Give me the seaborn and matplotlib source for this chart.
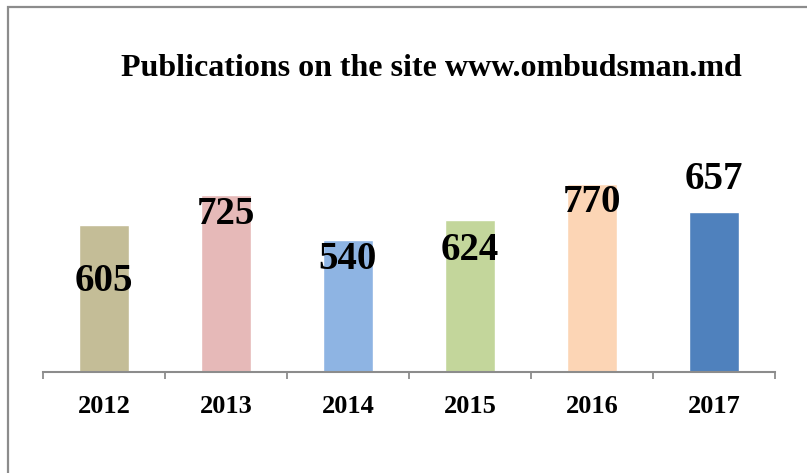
import matplotlib
matplotlib.use('Agg')
import matplotlib.pyplot as plt
import seaborn as sns
import pandas as pd
from matplotlib.patches import Rectangle

# Datos del gráfico
years = ['2012', '2013', '2014', '2015', '2016', '2017']
publications = [605, 725, 540, 624, 770, 657]
bar_colors = ['#C4BD97', '#E6B9B8', '#8EB4E3', '#C3D69B', '#FCD5B5', '#4F81BD']
# desplazamiento vertical de cada etiqueta (puntos) respecto al tope de la barra
label_offsets = [-41, -14, -14, -22, -13, 23]

df = pd.DataFrame({'year': years, 'count': publications})

sns.set_style('white')
plt.rcParams['font.family'] = ['Liberation Serif', 'DejaVu Serif']
plt.rcParams['text.color'] = 'black'
plt.rcParams['xtick.labelcolor'] = 'black'

fig = plt.figure(figsize=(8.07, 4.73), dpi=100)
ax = fig.add_axes([43 / 807, (473 - 372) / 473, 732 / 807, 272 / 473])

sns.barplot(data=df, x='year', y='count', hue='year', palette=bar_colors,
            width=0.41, legend=False, ax=ax, saturation=1)

ax.set_xlim(-0.5, 5.5)
ax.set_ylim(0, 1116)
ax.set_xlabel('')
ax.set_ylabel('')
ax.set_yticks([])
for s in ['top', 'right', 'left']:
    ax.spines[s].set_visible(False)
ax.spines['bottom'].set_color('#8C8C8C')
ax.spines['bottom'].set_linewidth(1.5)

# marcas entre categorías
ax.set_xticks([i - 0.5 for i in range(len(years) + 1)], minor=True)
ax.tick_params(axis='x', which='minor', length=5, width=1.3, color='#8C8C8C', bottom=True)
ax.tick_params(axis='x', which='major', length=0, pad=16.5, labelsize=19, labelcolor='black')
for lbl in ax.get_xticklabels():
    lbl.set_fontweight('bold')

# etiquetas de valor
for i, (v, off) in enumerate(zip(publications, label_offsets)):
    ax.annotate(str(v), xy=(i, v), xytext=(0, off), textcoords='offset points',
                ha='center', va='center', fontsize=28, fontweight='bold', color='black')

fig.text(431 / 807, 1 - 69 / 473, 'Publications on the site www.ombudsman.md',
         ha='center', va='center', fontsize=23, fontweight='bold', color='black')

# borde del gráfico
fig.patches.append(Rectangle((8 / 807, -0.1), 1.2, 1 - 7 / 473 + 0.1,
                             transform=fig.transFigure, fill=False,
                             edgecolor='#8C8C8C', linewidth=1.6))

fig.savefig('out.png', dpi=100)
